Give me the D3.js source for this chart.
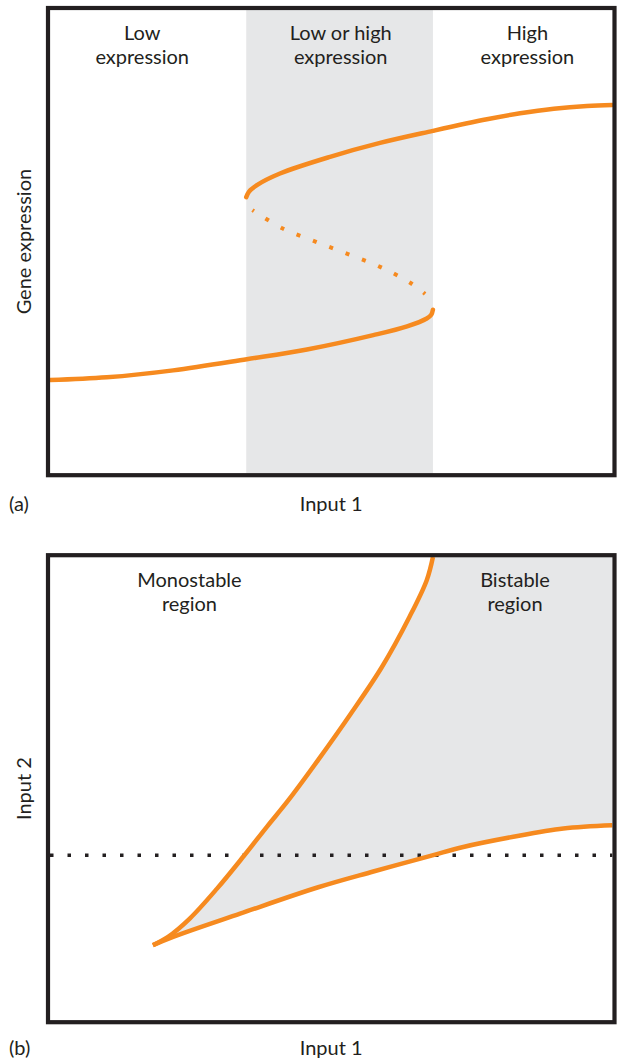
<!DOCTYPE html>
<html>
<head>
<meta charset="utf-8">
<script src="https://cdn.jsdelivr.net/npm/d3@7"></script>
<style>
  body { margin: 0; background: #fff; }
  text { font-family: Lato, "Open Sans", sans-serif; fill: #231f20; }
</style>
</head>
<body>
<svg id="chart"></svg>
<script>
// Panel (a): S-shaped response, Input 1 (x) vs gene expression (y), 0-10 units
var lowBranch = [[0, 2.01], [1.01, 2.07], [2.19, 2.22], [3.50, 2.46], [4.57, 2.67],
  [5.75, 2.98], [6.35, 3.17], [6.70, 3.34], [6.78, 3.42], [6.81, 3.53]];
var unstableBranch = [[3.60, 5.68], [4.13, 5.29], [4.72, 5.00], [5.30, 4.73],
  [5.88, 4.45], [6.42, 4.10], [6.67, 3.87]];
var highBranch = [[3.49, 5.96], [3.54, 6.08], [3.68, 6.22], [4.09, 6.47], [4.98, 6.83],
  [5.87, 7.13], [6.81, 7.39], [7.77, 7.64], [8.36, 7.77], [8.96, 7.87], [9.55, 7.93], [10, 7.95]];
var bistableBand = [3.49, 6.81];
var regionLabelsA = [["Low", "expression"], ["Low or high", "expression"], ["High", "expression"]];

// Panel (b): fold lines in the Input 1 / Input 2 plane
var foldLower = [[1.83, 1.62], [2.19, 1.80], [3.38, 2.30], [4.77, 2.87], [5.75, 3.21],
  [6.80, 3.56], [7.35, 3.74], [8.24, 3.96], [9.13, 4.14], [10, 4.21]];
var foldUpper = [[1.83, 1.62], [2.10, 1.80], [2.49, 2.20], [2.97, 2.84], [3.45, 3.55],
  [3.86, 4.18], [4.24, 4.75], [4.77, 5.62], [5.34, 6.60], [5.90, 7.62], [6.39, 8.70],
  [6.70, 9.50], [6.81, 10]];
var input2Level = 3.56;
var regionLabelsB = [["Monostable", "region"], ["Bistable", "region"]];

var width = 620, height = 1060;
var orange = "#f68a1f", shade = "#e6e7e8", ink = "#231f20";

var svg = d3.select("#chart").attr("width", width).attr("height", height);

// shared x scale, one y scale per panel (inner edges of the frames)
var x = d3.scaleLinear().domain([0, 10]).range([50, 612.3]);
var yA = d3.scaleLinear().domain([0, 10]).range([473.2, 10]);
var yB = d3.scaleLinear().domain([0, 10]).range([1020.2, 557]);

function lineFor(y) {
  return d3.line()
    .x(function (d) { return x(d[0]); })
    .y(function (d) { return y(d[1]); })
    .curve(d3.curveCatmullRom.alpha(0.5));
}

// two-line centred label, one text element per line
function label(g, lines, cx, top) {
  lines.forEach(function (line, j) {
    g.append("text")
      .attr("x", cx)
      .attr("y", top + j * 24)
      .attr("text-anchor", "middle")
      .style("font-size", "20px")
      .text(line);
  });
}

// ---------- panel (a) ----------
var gA = svg.append("g");

gA.append("rect")
  .attr("x", x(bistableBand[0]))
  .attr("y", yA(10))
  .attr("width", x(bistableBand[1]) - x(bistableBand[0]))
  .attr("height", yA(0) - yA(10))
  .attr("fill", shade);

var lineA = lineFor(yA);

[lowBranch, highBranch].forEach(function (branch) {
  gA.append("path")
    .attr("d", lineA(branch))
    .attr("fill", "none")
    .attr("stroke", orange)
    .attr("stroke-width", 4.5)
    .attr("stroke-linecap", "round");
});

gA.append("path")
  .attr("d", lineA(unstableBranch))
  .attr("fill", "none")
  .attr("stroke", orange)
  .attr("stroke-width", 4)
  .attr("stroke-dasharray", "4 13.5")
  .attr("stroke-dashoffset", 2);

gA.append("rect")
  .attr("x", 48).attr("y", 8)
  .attr("width", 566.5).attr("height", 467.2)
  .attr("fill", "none")
  .attr("stroke", ink)
  .attr("stroke-width", 4.2);

var labelXA = [1.64, 5.17, 8.49];
regionLabelsA.forEach(function (lines, i) {
  label(gA, lines, x(labelXA[i]), 39.5);
});

gA.append("text")
  .attr("transform", "translate(30.5," + yA(5) + ") rotate(-90)")
  .attr("text-anchor", "middle")
  .style("font-size", "20px")
  .text("Gene expression");

gA.append("text")
  .attr("x", x(5)).attr("y", 510.5)
  .attr("text-anchor", "middle")
  .style("font-size", "20px")
  .text("Input 1");

gA.append("text")
  .attr("x", 9).attr("y", 510.5)
  .style("font-size", "20px")
  .text("(a)");

// ---------- panel (b) ----------
var gB = svg.append("g");
var lineB = lineFor(yB);

// bistable area: between the two fold lines, closed along the top and right edges
var areaPath = lineB(foldUpper) +
  "L" + x(10) + "," + yB(10) +
  "L" + x(10) + "," + yB(foldLower[foldLower.length - 1][1]) +
  lineB(foldLower.slice().reverse()).replace(/^M/, "L") + "Z";

gB.append("path")
  .attr("d", areaPath)
  .attr("fill", shade);

gB.append("line")
  .attr("x1", x(0)).attr("x2", x(10))
  .attr("y1", yB(input2Level)).attr("y2", yB(input2Level))
  .attr("stroke", ink)
  .attr("stroke-width", 3.5)
  .attr("stroke-dasharray", "3.5 14");

[foldUpper, foldLower].forEach(function (branch) {
  gB.append("path")
    .attr("d", lineB(branch))
    .attr("fill", "none")
    .attr("stroke", orange)
    .attr("stroke-width", 4.5)
    .attr("stroke-linecap", "butt");
});

gB.append("rect")
  .attr("x", 48).attr("y", 555.2)
  .attr("width", 566.5).attr("height", 467)
  .attr("fill", "none")
  .attr("stroke", ink)
  .attr("stroke-width", 4.2);

var labelXB = [2.48, 8.27];
regionLabelsB.forEach(function (lines, i) {
  label(gB, lines, x(labelXB[i]), 586.5);
});

gB.append("text")
  .attr("transform", "translate(30.5," + yB(5) + ") rotate(-90)")
  .attr("text-anchor", "middle")
  .style("font-size", "20px")
  .text("Input 2");

gB.append("text")
  .attr("x", x(5)).attr("y", 1054.5)
  .attr("text-anchor", "middle")
  .style("font-size", "20px")
  .text("Input 1");

gB.append("text")
  .attr("x", 9).attr("y", 1054.5)
  .style("font-size", "20px")
  .text("(b)");
</script>
</body>
</html>
